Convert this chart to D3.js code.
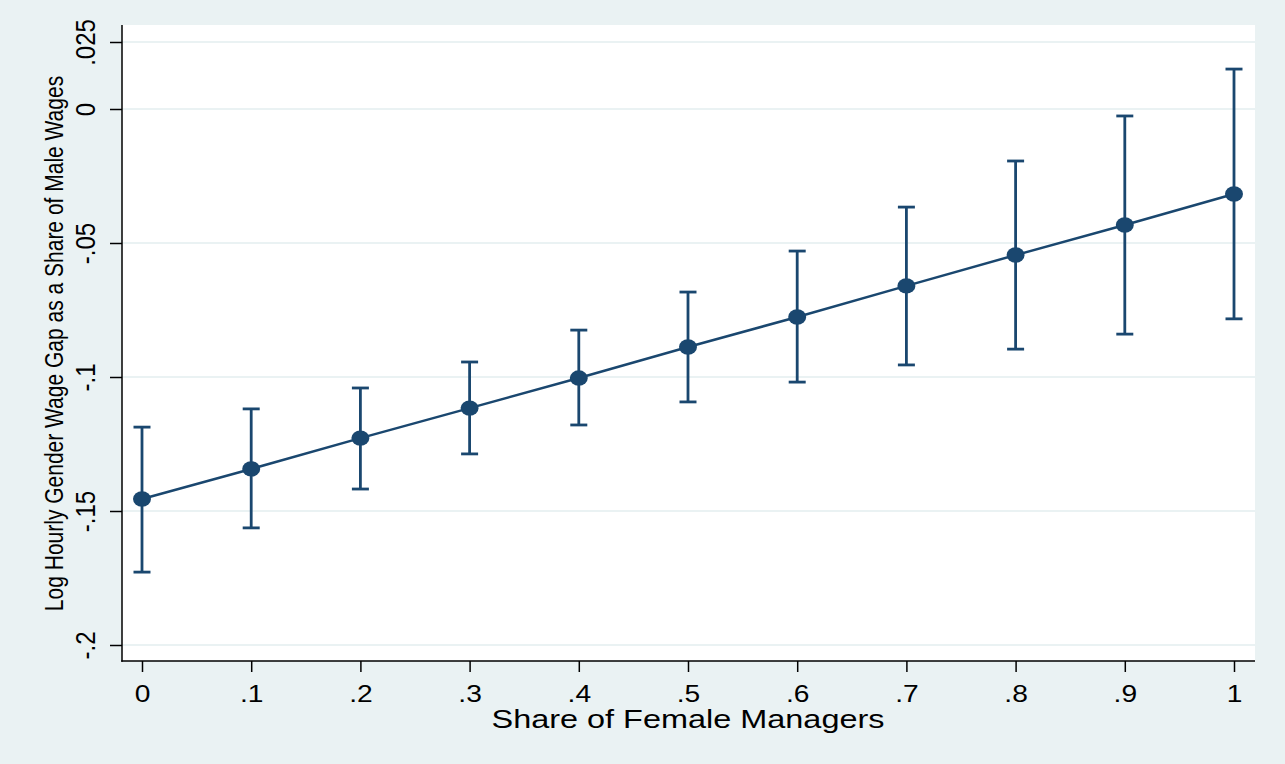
<!DOCTYPE html>
<html>
<head>
<meta charset="utf-8">
<script src="https://cdn.jsdelivr.net/npm/d3@7"></script>
<style>
  html, body { margin: 0; padding: 0; background: #eaf2f3; }
  svg { display: block; }
  text { font-family: "Liberation Sans", Arial, Helvetica, sans-serif; fill: #000; }
</style>
</head>
<body>
<div id="chart"></div>
<script>
// Predicted log hourly gender wage gap by share of female managers, with 95% CIs
const shares   = [0, 0.1, 0.2, 0.3, 0.4, 0.5, 0.6, 0.7, 0.8, 0.9, 1];
const estimate = [-0.1455, -0.1343, -0.1228, -0.1116, -0.1004, -0.0888, -0.0776, -0.0660, -0.0545, -0.0433, -0.0317];
const ciUpper  = [-0.1187, -0.1119, -0.1041, -0.0944, -0.0825, -0.0683, -0.0530, -0.0366, -0.0194, -0.0026, 0.0149];
const ciLower  = [-0.1728, -0.1563, -0.1418, -0.1287, -0.1179, -0.1093, -0.1019, -0.0955, -0.0896, -0.0840, -0.0783];

const xTicks      = [0, 0.1, 0.2, 0.3, 0.4, 0.5, 0.6, 0.7, 0.8, 0.9, 1];
const xTickLabels = ["0", ".1", ".2", ".3", ".4", ".5", ".6", ".7", ".8", ".9", "1"];
const yTicks      = [0.025, 0, -0.05, -0.1, -0.15, -0.2];
const yTickLabels = [".025", "0", "-.05", "-.1", "-.15", "-.2"];

const xTitle = "Share of Female Managers";
const yTitle = "Log Hourly Gender Wage Gap as a Share of Male Wages";

const W = 1285, H = 764;
const plot = { left: 122, right: 1255, top: 25, bottom: 661 };
const navy = "#1a476f";
const bg = "#eaf2f3";

const svg = d3.select("#chart").append("svg")
  .attr("width", W).attr("height", H);

svg.append("rect").attr("width", W).attr("height", H).attr("fill", bg);

const x = d3.scaleLinear().domain([0, 1]).range([142, 1234]);
const y = d3.scaleLinear().domain([-0.2, 0.025]).range([645, 42]);

// plot region
svg.append("rect")
  .attr("x", plot.left).attr("y", plot.top)
  .attr("width", plot.right - plot.left).attr("height", plot.bottom - plot.top)
  .attr("fill", "#fff");

// horizontal grid lines
svg.append("g").selectAll("line").data(yTicks).join("line")
  .attr("x1", plot.left).attr("x2", plot.right)
  .attr("y1", d => y(d)).attr("y2", d => y(d))
  .attr("stroke", bg).attr("stroke-width", 2);

// y axis
const yAxis = svg.append("g")
  .attr("transform", `translate(${plot.left},0)`)
  .call(d3.axisLeft(y).tickValues(yTicks).tickSize(12).tickSizeOuter(0)
    .tickFormat((d, i) => yTickLabels[i]));
yAxis.select(".domain").remove();
yAxis.selectAll(".tick line").attr("stroke", "#000").attr("stroke-width", 1.5);
yAxis.selectAll(".tick text")
  .attr("x", null).attr("dy", null)
  .attr("text-anchor", "middle")
  .attr("font-size", 24)
  .attr("transform", "translate(-27,0) rotate(-90) scale(1,1.15)");

// x axis
const xAxis = svg.append("g")
  .attr("transform", `translate(0,${plot.bottom})`)
  .call(d3.axisBottom(x).tickValues(xTicks).tickSize(11).tickSizeOuter(0)
    .tickFormat((d, i) => xTickLabels[i]));
xAxis.select(".domain").remove();
xAxis.selectAll(".tick line").attr("stroke", "#000").attr("stroke-width", 1.5);
xAxis.selectAll(".tick text")
  .attr("y", 0).attr("dy", null)
  .attr("font-size", 24.5)
  .attr("transform", "translate(0,41) scale(1.15,1)");

// axis lines
svg.append("line")
  .attr("x1", plot.left).attr("x2", plot.left)
  .attr("y1", plot.top).attr("y2", plot.bottom + 0.75)
  .attr("stroke", "#000").attr("stroke-width", 1.5);
svg.append("line")
  .attr("x1", plot.left - 0.75).attr("x2", plot.right)
  .attr("y1", plot.bottom).attr("y2", plot.bottom)
  .attr("stroke", "#000").attr("stroke-width", 1.5);

const pts = shares.map((s, i) => ({ s, est: estimate[i], hi: ciUpper[i], lo: ciLower[i] }));

// confidence interval bars with caps
const capHalf = 8.5;
const ci = svg.append("g").attr("stroke", navy).attr("stroke-width", 2.8).attr("fill", "none");
ci.selectAll("line.bar").data(pts).join("line").attr("class", "bar")
  .attr("x1", d => x(d.s)).attr("x2", d => x(d.s))
  .attr("y1", d => y(d.hi)).attr("y2", d => y(d.lo));
ci.selectAll("line.capHi").data(pts).join("line").attr("class", "capHi")
  .attr("x1", d => x(d.s) - capHalf).attr("x2", d => x(d.s) + capHalf)
  .attr("y1", d => y(d.hi)).attr("y2", d => y(d.hi));
ci.selectAll("line.capLo").data(pts).join("line").attr("class", "capLo")
  .attr("x1", d => x(d.s) - capHalf).attr("x2", d => x(d.s) + capHalf)
  .attr("y1", d => y(d.lo)).attr("y2", d => y(d.lo));

// connecting line of point estimates
svg.append("path").datum(pts)
  .attr("fill", "none").attr("stroke", navy).attr("stroke-width", 2.5)
  .attr("d", d3.line().x(d => x(d.s)).y(d => y(d.est)));

// markers
svg.append("g").selectAll("ellipse").data(pts).join("ellipse")
  .attr("cx", d => x(d.s)).attr("cy", d => y(d.est))
  .attr("rx", 9).attr("ry", 7.7)
  .attr("fill", navy);

// axis titles
svg.append("text")
  .attr("x", 688).attr("y", 728)
  .attr("text-anchor", "middle")
  .attr("font-size", 25)
  .attr("textLength", 393).attr("lengthAdjust", "spacingAndGlyphs")
  .text(xTitle);

svg.append("text")
  .attr("text-anchor", "middle")
  .attr("font-size", 21)
  .attr("transform", "translate(63,343.5) rotate(-90) scale(1,1.25)")
  .text(yTitle);
</script>
</body>
</html>
